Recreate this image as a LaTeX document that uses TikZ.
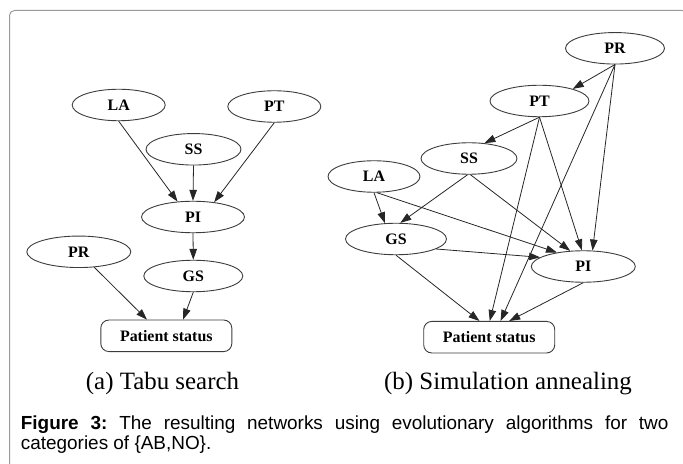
\documentclass[tikz,border=0pt]{standalone}
\usepackage{fontspec}
\setmainfont{Liberation Serif}
\setsansfont{Liberation Sans}
\usetikzlibrary{shapes.geometric,arrows.meta}
\definecolor{framegray}{HTML}{9A9A9A}
\definecolor{linegray}{HTML}{3C3C3C}
\frenchspacing
\begin{document}
\begin{tikzpicture}[
		x=1bp, y=-1bp,
		varnode/.style={draw=linegray, ellipse, line width=0.9bp, inner sep=0pt, minimum height=31.5bp, font=\bfseries\fontsize{16}{19}\selectfont},
		classnode/.style={draw=linegray, rectangle, rounded corners=8bp, line width=0.9bp, inner sep=0pt, minimum width=131bp, minimum height=31.5bp, font=\bfseries\fontsize{16}{19}\selectfont},
		sublabel/.style={anchor=base, inner sep=0pt, font=\fontsize{25}{30}\selectfont},
		dep/.style={draw=black!85, line width=0.8bp, -{Triangle[length=11bp,width=7.5bp]}},
		]
		\useasboundingbox (0,0) rectangle (683,464);
		\draw[framegray, line width=1bp, rounded corners=5bp] (9.5,10.5) rectangle (687,472);

		% (a) tabu search
		\node [varnode, minimum width=93bp] (la-a) at (118.7,105) {LA};
		\node [varnode, minimum width=93bp] (pt-a) at (274.3,106.5) {PT};
		\node [varnode, minimum width=95bp] (ss-a) at (193.5,149.3) {SS};
		\node [varnode, minimum width=103bp] (pi-a) at (193,217) {PI};
		\node [varnode, minimum width=104bp] (pr-a) at (78.8,251.8) {PR};
		\node [varnode, minimum width=99bp] (gs-a) at (193.3,276) {GS};
		\node [classnode] (ps-a) at (166.3,335.8) {Patient status};
		\draw [dep] (la-a.south) -- (pi-a.135);
		\draw [dep] (ss-a.south) -- (pi-a.north);
		\draw [dep] (pt-a.south) -- (pi-a.35);
		\draw [dep] (pi-a.south) -- (gs-a.north);
		\draw [dep] (pr-a.-45) -- (ps-a.140);
		\draw [dep] (gs-a.south) -- (ps-a.44);

		% (b) simulation annealing
		\node [varnode, minimum width=99bp] (pr-b) at (615,48.3) {PR};
		\node [varnode, minimum width=99bp] (pt-b) at (539.5,101) {PT};
		\node [varnode, minimum width=96bp] (ss-b) at (469,158.5) {SS};
		\node [varnode, minimum width=92bp] (la-b) at (374,176.5) {LA};
		\node [varnode, minimum width=101bp] (gs-b) at (396,239) {GS};
		\node [varnode, minimum width=104bp] (pi-b) at (583.3,266.5) {PI};
		\node [classnode] (ps-b) at (489.2,337.2) {Patient status};
		\draw [dep] (pr-b.south) -- (pt-b.20);
		\draw [dep] (pr-b.south) -- (ps-b.55);
		\draw [dep] (pr-b.south) -- (pi-b.60);
		\draw [dep] (pt-b.south) -- (ss-b.45);
		\draw [dep] (pt-b.south) -- (ps-b.88);
		\draw [dep] (pt-b.south) -- (pi-b.95);
		\draw [dep] (ss-b.-95) -- (gs-b.75);
		\draw [dep] (ss-b.-85) -- (pi-b.130);
		\draw [dep] (la-b.south) -- (gs-b.125);
		\draw [dep] (la-b.-80) -- (pi-b.152);
		\draw [dep] (gs-b.-14) -- (pi-b.168);
		\draw [dep] (gs-b.south) -- (ps-b.121);
		\draw [dep] (pi-b.south) -- (ps-b.39);

		% captions
		\node [sublabel] (cap-a) at (162.5,389) {(a) Tabu search};
		\node [sublabel] (cap-b) at (508,389) {(b) Simulation annealing};
		\node [anchor=north west, inner sep=0pt, text width=647.6bp, align=justify, font=\sffamily\fontsize{19}{20.5}\selectfont] (fig-cap) at (20.7,415.2)
			{\textbf{Figure 3:} The resulting networks using evolutionary algorithms for two\linebreak categories of \{AB,NO\}.};
	\end{tikzpicture}
\end{document}
